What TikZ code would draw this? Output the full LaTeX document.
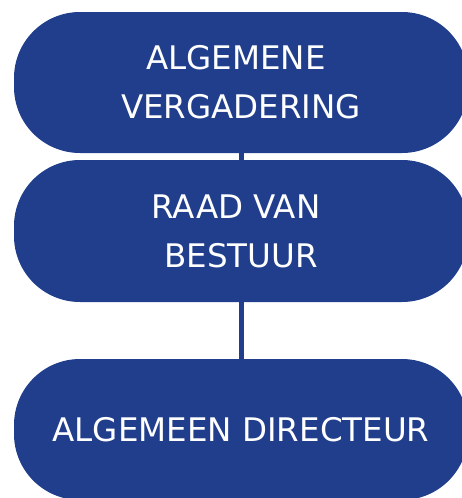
\documentclass[tikz,border=0pt]{standalone}
\usepackage{fontspec}
\setmainfont{DejaVu Sans}
\definecolor{boxblue}{RGB}{32,62,140}
\tikzset{
  orgbox/.style={rectangle, rounded corners=66pt, fill=boxblue, text=white,
    minimum width=454pt, align=center, inner sep=0pt,
    font=\fontsize{32.5}{49}\selectfont},
  link/.style={draw=boxblue, line width=5pt}
}
\begin{document}
\begin{tikzpicture}[x=1pt,y=1pt]
\useasboundingbox (0,0) rectangle (462,-498);
\node[orgbox, minimum height=141pt] (av) at (241,-82.5) {ALGEMENE\kern10pt\\VERGADERING};
\node[orgbox, minimum height=142pt] (rvb) at (241,-231) {RAAD VAN\kern10pt\\BESTUUR};
\node[orgbox, minimum height=141pt] (ad) at (241,-429.5) {ALGEMEEN DIRECTEUR};
\draw[link] (av.south) -- (rvb.north);
\draw[link] (rvb.south) -- (ad.north);
\end{tikzpicture}
\end{document}
